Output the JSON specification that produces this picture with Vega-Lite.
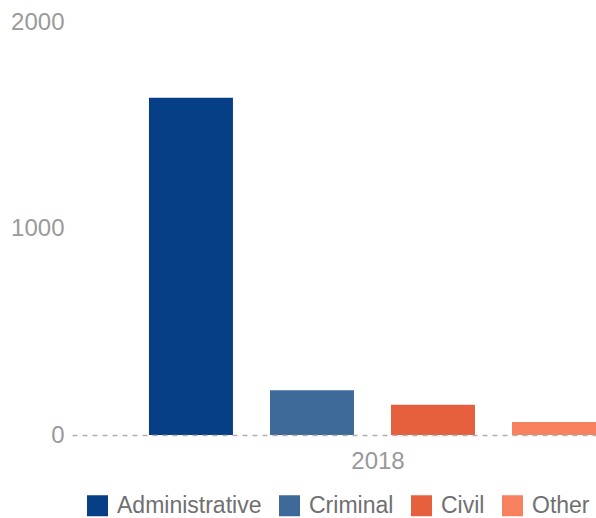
{
  "$schema": "https://vega.github.io/schema/vega-lite/v6.json",
  "width": 524,
  "height": 413,
  "autosize": {"type": "none"},
  "padding": {"left": 72, "top": 22, "right": 0, "bottom": 83},
  "background": "white",
  "config": {
    "view": {"stroke": null},
    "font": "Liberation Sans"
  },
  "data": {
    "values": [
      {"year": "2018", "category": "Administrative", "value": 1633},
      {"year": "2018", "category": "Criminal", "value": 217},
      {"year": "2018", "category": "Civil", "value": 146},
      {"year": "2018", "category": "Other", "value": 63}
    ]
  },
  "mark": {"type": "bar"},
  "encoding": {
    "x": {
      "field": "year",
      "type": "nominal",
      "scale": {"paddingInner": 0, "paddingOuter": 0},
      "axis": {
        "title": null,
        "labelAngle": 0,
        "ticks": false,
        "labelFontSize": 24,
        "labelColor": "#999999",
        "labelPadding": 14,
        "labelOffset": 44,
        "domainColor": "#b0b0b0",
        "domainDash": [5, 5],
        "domainWidth": 1.5,
        "zindex": 1
      }
    },
    "xOffset": {
      "field": "category",
      "type": "nominal",
      "sort": ["Administrative", "Criminal", "Civil", "Other"],
      "scale": {"paddingInner": 0.306, "paddingOuter": 0.318, "align": 1}
    },
    "y": {
      "field": "value",
      "type": "quantitative",
      "scale": {"domain": [0, 2000]},
      "axis": {
        "title": null,
        "values": [0, 1000, 2000],
        "format": "d",
        "domain": false,
        "ticks": false,
        "grid": false,
        "labelFontSize": 24,
        "labelColor": "#9a9a9a",
        "labelPadding": 8
      }
    },
    "color": {
      "field": "category",
      "type": "nominal",
      "sort": ["Administrative", "Criminal", "Civil", "Other"],
      "scale": {
        "domain": ["Administrative", "Criminal", "Civil", "Other"],
        "range": ["#063f85", "#3e6a9a", "#e6603e", "#f7805e"]
      },
      "legend": {
        "title": null,
        "orient": "none",
        "direction": "horizontal",
        "legendX": 14,
        "legendY": 472,
        "symbolType": "square",
        "symbolSize": 441,
        "symbolStrokeWidth": 0,
        "labelFontSize": 23,
        "labelColor": "#707070",
        "labelOffset": 8,
        "columnPadding": 16,
        "labelLimit": 300
      }
    }
  }
}
